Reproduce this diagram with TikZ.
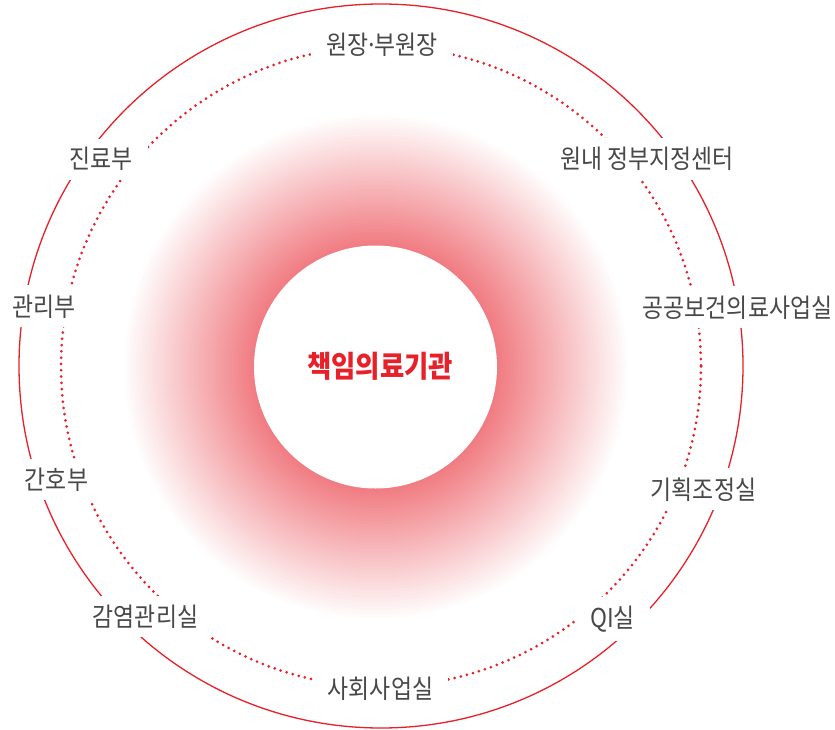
\documentclass[tikz,border=0pt]{standalone}
\usepackage{fontspec}
\newfontfamily\kr[FakeStretch=0.88]{Noto Sans CJK KR}
\definecolor{cred}{RGB}{232,32,42}
\definecolor{ctext}{RGB}{72,72,72}
\definecolor{glowc}{RGB}{240,122,128}
\tikzset{
  lbl/.style={fill=white, text=ctext, font=\kr\fontsize{26}{26}\selectfont,
    inner xsep=15pt, inner ysep=9pt, anchor=base},
  ring/.style={draw=cred, line width=1.3pt},
  dotring/.style={draw=cred, line width=3pt, line cap=round, dash pattern=on 0pt off 6.3pt},
  core/.style={circle, fill=white, minimum size=243pt, inner sep=0pt}
}
\begin{document}
\begin{tikzpicture}[x=1pt,y=-1pt]
\useasboundingbox (0,0) rectangle (835,730);
\fill[white] (0,0) rectangle (835,730);
% glow
\foreach \i in {0,...,133}{
  \pgfmathsetmacro\rr{254-\i}
  \pgfmathtruncatemacro\pp{100*\i/133}
  \fill[glowc!\pp!white] (376,367) circle[radius=\rr];
}
% rings
\draw[ring] (381,366) circle[radius=362];
\draw[dotring] (381,366.5) circle[radius=320];
% core
\node[core] (core) at (375.5,367) {};
\node[text=cred, font=\kr\bfseries\fontsize{30}{30}\selectfont, anchor=base] (title) at (380,377) {책임의료기관};
% labels
\node[lbl] (l1) at (382,55) {원장\kern-3.5pt·\kern-3.5pt부원장};
\node[lbl] (l2) at (647,169) {원내 정부지정센터};
\node[lbl] (l3) at (737.5,317) {공공보건의료사업실};
\node[lbl] (l4) at (703.5,499) {기획조정실};
\node[lbl] (l5) at (612.5,627) {QI실};
\node[lbl] (l6) at (380.5,698) {사회사업실};
\node[lbl] (l7) at (145.5,626) {감염관리실};
\node[lbl] (l8) at (56.5,489) {간호부};
\node[lbl] (l9) at (44,316) {관리부};
\node[lbl] (l10) at (101,169) {진료부};
\end{tikzpicture}
\end{document}
